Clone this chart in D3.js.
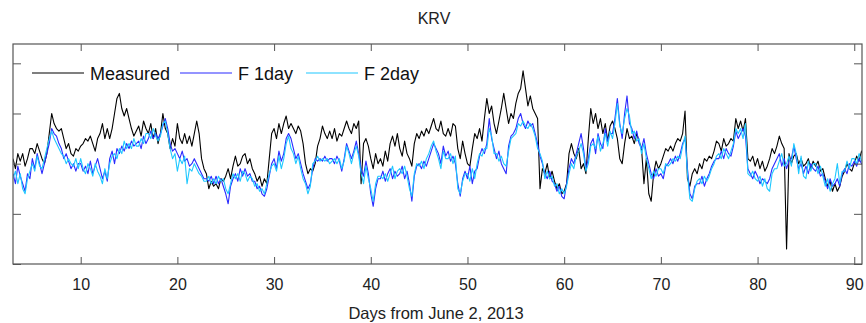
<!DOCTYPE html>
<html>
<head>
<meta charset="utf-8">
<script src="https://cdn.jsdelivr.net/npm/d3@7"></script>
<style>
  body { margin: 0; background: #fff; }
  svg { font-family: "Liberation Sans", Arial, sans-serif; }
</style>
</head>
<body>
<figure id="chart" style="margin:0"></figure>
<script>
// Series sampled every 6 hours, starting at day 3 (one row per day)
const startDay = 3;
const stepDays = 0.25;

const measured = [
  21, 19, 22, 20.5,   22, 19.5, 21, 23,   23, 22, 24, 22.5,   21, 20, 22, 26,
  30, 28, 27, 26.5,   27, 25, 23, 24,   22, 21.5, 23, 22.5,   23.5, 24, 25, 24.5,
  25.5, 24, 22.5, 25,   26, 28, 25, 27,   25, 27, 30, 33,   34, 31, 29.5, 31,
  29, 27, 25.5, 26.5,   27.5, 25.5, 28.5, 27,   26, 28, 25, 27,   24, 26, 30, 27,
  26, 23, 25, 23.5,   28, 25, 24, 26,   24, 25.5, 23.5, 26,   28.5, 26, 21, 19,
  18, 15, 16.5, 15.5,   16, 15, 17, 16.5,   17.5, 19, 17, 19.5,   21.5, 19.5, 20, 21.5,
  22, 20, 21, 19,   18, 16.5, 17.5, 15.5,   17, 16, 21, 26,   27, 25, 28, 26,
  28, 29.5, 27, 28,   27, 26, 27.5, 26.5,   24, 20, 18, 19,   18.5, 20, 23.5, 25,
  27.5, 26, 25, 26.5,   25, 27, 24.5, 26,   25.5, 27, 28.5, 27,   26, 28, 27, 28.5,
  16, 24, 25, 23.5,   21, 19, 22, 20,   21, 19.5, 22.5, 20.5,   24, 25.5, 23.5, 26,
  23, 21.5, 24.5, 22,   21, 19.5, 24, 26,   25, 26.5, 25.5, 27,   26, 27.5, 29, 27,
  26.5, 28.5, 26, 25.5,   27, 25.5, 28, 27.5,   23, 21, 24.5, 22,   20, 19.5, 23, 26,
  25, 27, 24.5, 29,   33, 30, 31.5, 28,   26, 28.5, 31, 34,   31, 28, 30, 29,
  32, 34, 35, 38.5,   35, 31.5, 33.5, 31,   30, 29, 15, 19,   18, 20, 17, 18.5,
  16.5, 15, 16, 14,   14.5, 16, 22, 24,   22, 21, 23, 19,   20, 18, 25, 31,
  28, 30, 27, 29,   26, 28, 24.5, 27.5,   28.5, 27, 25, 21,   20, 24, 27, 25,
  25.5, 24, 26, 24.5,   23, 16, 21, 14,   12.5, 18, 20.5, 19,   20, 21.5, 23, 22.5,
  23.5, 22.5, 24, 25,   24.5, 26, 30.5, 17,   15.5, 18, 19, 18,   20, 19, 21, 20.5,
  21.5, 21, 22.5, 24.5,   24, 22.5, 25, 23.5,   24, 25, 24.5, 29,   27, 28.5, 26.5, 29,
  21, 20.5, 21.5, 19.5,   21, 19, 20.5, 18.5,   19.5, 21, 23, 22,   23.5, 25.5, 24, 23,
  3, 22, 20, 21.5,   22, 20, 21, 19.5,   20, 21, 19, 20.5,   19.5, 20.5, 18.5, 19,
  17, 15.5, 16.5, 14.5,   16, 14.5, 15.5, 17.5,   18.5, 20, 19, 18.5,   20, 21.5, 20.5, 22.5,
  21.5
];

const f1day = [
  18, 16, 19.5, 17.5,   16, 14.5, 18, 17,   21, 19, 22, 20,   18, 20, 22, 24,
  27, 26, 25.5, 24,   23, 21, 22, 20.5,   19, 20, 18.5, 20,   20, 18.5, 19.5, 18,
  20.5, 18, 19.5, 21,   19, 17, 18.5, 16.5,   21, 22.5, 20, 23,   22, 23.5, 22.5, 24,
  23, 24.5, 23.5, 24,   24.5, 23, 25.5, 24,   25, 26.5, 25, 26,   25, 26, 27.5, 29,
  27, 24, 22.5, 23,   22, 21, 22.5, 20.5,   21, 19.5, 20, 21,   20, 19, 18, 17,
  17, 16.5, 17.5, 16,   17.5, 16, 17, 15.5,   14, 12, 15.5, 17,   18, 16.5, 19, 17.5,
  19, 17.5, 18, 16.5,   16.5, 15, 15.5, 14,   13.5, 15, 17.5, 20,   21, 19, 22.5, 20.5,
  22, 25, 26, 25,   23, 21, 22, 20,   18, 16.5, 15, 16,   19, 21, 20.5, 21,
  20.5, 21.5, 20.5, 21,   21, 20, 21.5, 20.5,   18.5, 21, 24, 22.5,   21, 22.5, 24.5, 22,
  19, 17.5, 20.5, 18,   14, 11.5, 15, 17,   17, 18.5, 16.5, 18,   19, 17, 18.5, 17.5,
  18, 19.5, 17, 18.5,   16, 12.5, 17.5, 19.5,   20, 19, 20.5, 19.5,   21, 22.5, 24, 23,
  22, 20, 23.5, 21.5,   22.5, 20.5, 21.5, 20,   16, 13.5, 17, 18.5,   17, 19.5, 16, 18.5,
  19, 21.5, 23, 22,   24, 29, 25, 23,   21, 22.5, 20, 19,   18, 23.5, 25.5, 26,
  27, 29, 30, 28,   27, 28.5, 27.5, 28,   26, 24, 21.5, 20,   18, 17, 18.5, 16.5,
  16, 14.5, 15.5, 13.5,   13, 16, 19, 21,   20, 22, 24, 26,   23, 19, 21, 24,
  25, 22, 26, 24,   23, 27, 24.5, 26,   26, 29, 33, 28,   25, 30, 33.5, 28,
  27, 25, 26.5, 24,   23, 25, 22, 20,   18, 17, 19, 17.5,   18, 17, 19.5, 20,
  21, 20, 21.5, 20.5,   22, 24, 25, 19,   14, 13, 15.5, 16,   16, 17.5, 15.5, 17,
  18, 19.5, 20.5, 21,   21, 22.5, 21, 23,   22, 21.5, 23.5, 26.5,   25, 26, 27, 25.5,
  19, 18, 17, 18.5,   17.5, 16, 17, 16.5,   16, 17, 19, 20,   21, 22, 19.5, 21,
  19, 20.5, 21, 23.5,   21, 19, 20, 18,   19.5, 18, 20, 19,   18.5, 19.5, 17.5, 18,
  16.5, 15, 17, 15.5,   16, 17, 15.5, 18,   19, 18, 20, 19.5,   20.5, 19.5, 21, 20,
  19.5
];

const f2day = [
  17, 18.5, 16, 18,   15, 14, 17, 18.5,   20, 18.5, 21.5, 19.5,   19, 21, 23, 25,
  26.5, 25, 24, 23,   22, 21.5, 20, 21,   20, 19.5, 21, 19,   21, 19, 18, 20,
  19, 17.5, 20, 18.5,   17.5, 16, 19, 17,   20, 21.5, 22, 21,   23, 22, 24.5, 23,
  24, 23, 25, 23.5,   23.5, 25, 24, 26,   26, 25, 27, 25.5,   24.5, 25.5, 28, 28.5,
  26, 23, 21, 22,   18.5, 21, 20, 21.5,   16, 19, 18.5, 20,   19, 18, 17.5, 16.5,
  16.5, 17.5, 16, 17,   16, 17.5, 16.5, 17,   15, 14, 16, 18,   17, 18, 16.5, 18.5,
  18, 16.5, 17.5, 17,   15.5, 16, 14.5, 15,   14, 16, 18, 19.5,   20, 18.5, 21.5, 19,
  21, 24, 25.5, 23,   22, 20, 21.5, 19,   17, 16, 14, 15.5,   20, 20.5, 21.5, 20.5,
  21, 20.5, 21, 20,   20.5, 21, 20, 21,   19, 20.5, 23.5, 22,   20, 22, 23.5, 21.5,
  18, 16, 19.5, 17,   15, 12.5, 16, 17.5,   17.5, 17, 18, 16.5,   18, 19.5, 17, 18.5,
  19, 18, 19.5, 17.5,   15, 13.5, 18, 20,   19.5, 20.5, 19, 21,   22, 23.5, 24.5, 22.5,
  21, 19, 22.5, 21,   21, 22, 20, 21.5,   15, 14, 16.5, 18,   18, 16.5, 19, 17,
  20, 22, 21.5, 23,   23, 27, 25.5, 22,   22, 20.5, 21.5, 20,   19.5, 22.5, 25, 25.5,
  26, 28, 27.5, 28.5,   27.5, 27, 28, 27,   25.5, 23, 22, 20.5,   17, 18.5, 17, 17.5,
  15.5, 16, 14, 15,   14, 15.5, 18, 20,   19, 21.5, 22.5, 24,   22, 18.5, 20, 23.5,
  24, 23, 25.5, 22.5,   24, 26, 23.5, 26.5,   25, 28, 32, 27.5,   26, 29, 31, 29.5,
  26, 26.5, 24.5, 25,   22, 24, 21, 19,   17, 18.5, 17.5, 19,   19, 18, 20, 19.5,
  20, 21, 20.5, 21.5,   21, 23.5, 25.5, 18,   13, 12.5, 15, 16.5,   17, 16, 17.5, 16.5,
  17.5, 19, 20, 21.5,   22, 21, 23, 22,   21, 22.5, 24, 27,   26, 27, 25, 28,
  18, 17.5, 18.5, 17,   16.5, 17.5, 15.5, 17,   15, 14.5, 18, 19,   19, 20.5, 22, 19.5,
  20, 21.5, 19.5, 24,   22, 18, 21.5, 17.5,   17, 20.5, 18.5, 20,   20, 18, 19.5, 17.5,
  15.5, 17, 14.5, 16,   17, 20, 16, 18.5,   18.5, 20.5, 19, 21,   21, 20, 22, 20.5,
  20.5
];

const seriesNames = ['Measured', 'F 1day', 'F 2day'];
const seriesColors = ['#000000', '#2a2aff', '#1ec8ff'];
const xTicks = [10, 20, 30, 40, 50, 60, 70, 80, 90];
const yTicks = [0, 10, 20, 30, 40];

const width = 866, height = 323;
const margin = { top: 44, right: 4, bottom: 59, left: 13 };
const innerW = width - margin.left - margin.right;
const innerH = height - margin.top - margin.bottom;

const svg = d3.select('figure#chart')
  .append('svg')
  .attr('width', width)
  .attr('height', height);

const x = d3.scaleLinear().domain([3, 90.8]).range([0, innerW]);
const y = d3.scaleLinear().domain([0, 43.85]).range([innerH, 0]);

const g = svg.append('g')
  .attr('transform', `translate(${margin.left},${margin.top})`);

g.append('clipPath').attr('id', 'plotClip')
  .append('rect').attr('width', innerW).attr('height', innerH);

// lines, drawn in legend order
const line = d3.line()
  .x((d, i) => x(startDay + i * stepDays))
  .y(d => y(d));

[measured, f1day, f2day].forEach((s, k) => {
  g.append('path')
    .datum(s)
    .attr('clip-path', 'url(#plotClip)')
    .attr('fill', 'none')
    .attr('stroke', seriesColors[k])
    .attr('stroke-width', 1.1)
    .attr('stroke-linejoin', 'round')
    .attr('d', line);
});

// axes: ticks point inward on all four sides
const frame = '#555';
const bottomAxis = g.append('g')
  .attr('transform', `translate(0,${innerH})`)
  .call(d3.axisBottom(x).tickValues(xTicks).tickSizeInner(-7).tickSizeOuter(0).tickPadding(15));
bottomAxis.selectAll('text').attr('font-size', 16).attr('fill', '#222');

g.append('g')
  .call(d3.axisTop(x).tickValues(xTicks).tickSizeInner(-7).tickSizeOuter(0).tickFormat(''));

g.append('g')
  .call(d3.axisLeft(y).tickValues(yTicks).tickSizeInner(-8).tickSizeOuter(0).tickFormat(''));

g.append('g')
  .attr('transform', `translate(${innerW},0)`)
  .call(d3.axisRight(y).tickValues(yTicks).tickSizeInner(-8).tickSizeOuter(0).tickFormat(''));

g.selectAll('.domain').remove();
g.selectAll('.tick line').attr('stroke', frame);

g.append('rect')
  .attr('width', innerW)
  .attr('height', innerH)
  .attr('fill', 'none')
  .attr('stroke', frame)
  .attr('stroke-width', 1.2);

// legend inside the plot, top left
const legendX = [19, 167, 293];
seriesNames.forEach((name, k) => {
  const lg = g.append('g').attr('transform', `translate(${legendX[k]},29)`);
  lg.append('line')
    .attr('x1', 0).attr('x2', 52)
    .attr('stroke', seriesColors[k]).attr('stroke-width', 1.2);
  lg.append('text')
    .attr('x', 58).attr('y', 6.5)
    .attr('font-size', 18)
    .attr('fill', '#111')
    .text(name);
});

// title and axis label
svg.append('text')
  .attr('x', 434).attr('y', 24)
  .attr('text-anchor', 'middle')
  .attr('font-size', 16)
  .attr('fill', '#222')
  .text('KRV');

svg.append('text')
  .attr('x', 436).attr('y', 319)
  .attr('text-anchor', 'middle')
  .attr('font-size', 16.5)
  .attr('fill', '#222')
  .text('Days from June 2, 2013');
</script>
</body>
</html>
